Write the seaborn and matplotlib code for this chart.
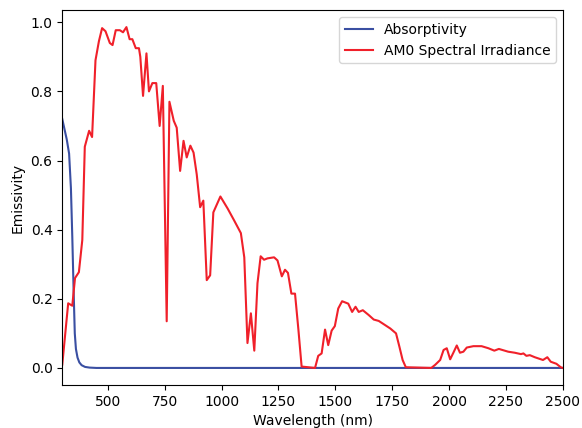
import matplotlib
matplotlib.use('Agg')
import matplotlib.pyplot as plt
import seaborn as sns
import pandas as pd

# absorptivity of the coating
abs_wl = [300, 310, 320, 330, 338, 344, 350, 355, 360, 367, 375, 385, 400, 420,
          450, 500, 1000, 1500, 2000, 2500]
abs_val = [0.72, 0.69, 0.66, 0.62, 0.52, 0.38, 0.22, 0.10, 0.055, 0.03, 0.016,
           0.008, 0.003, 0.001, 0.0, 0.0, 0.0, 0.0, 0.0, 0.0]

# AM0 spectrum, normalised
am0_wl = [300, 326, 344, 356, 373, 388, 399, 418, 431, 446, 461, 475, 490, 509,
          521, 535, 553, 567, 582, 596, 608, 623, 637, 643, 655, 670, 681, 696,
          713, 728, 742, 759, 771, 790, 803, 818, 833, 847, 863, 877, 891, 906,
          920, 935, 950, 964, 995, 1027, 1056, 1085, 1100, 1114, 1129, 1144,
          1158, 1172, 1187, 1202, 1231, 1246, 1265, 1279, 1292, 1307, 1323,
          1338, 1352, 1411, 1425, 1440, 1455, 1469, 1484, 1498, 1513, 1530,
          1557, 1574, 1589, 1603, 1621, 1647, 1669, 1691, 1705, 1742, 1767,
          1782, 1796, 1810, 1922, 1939, 1961, 1976, 1990, 2005, 2019, 2034,
          2048, 2063, 2078, 2107, 2143, 2173, 2199, 2219, 2260, 2289, 2316,
          2327, 2340, 2355, 2377, 2413, 2432, 2447, 2472, 2491, 2500]
am0_val = [0.01, 0.187, 0.18, 0.26, 0.277, 0.37, 0.64, 0.686, 0.668, 0.89,
           0.945, 0.983, 0.974, 0.94, 0.934, 0.977, 0.977, 0.971, 0.986, 0.951,
           0.951, 0.925, 0.925, 0.90, 0.787, 0.91, 0.80, 0.824, 0.824, 0.70,
           0.816, 0.135, 0.77, 0.715, 0.695, 0.57, 0.657, 0.609, 0.643, 0.623,
           0.56, 0.465, 0.484, 0.254, 0.268, 0.45, 0.496, 0.461, 0.426, 0.39,
           0.32, 0.072, 0.158, 0.05, 0.245, 0.323, 0.313, 0.317, 0.32, 0.311,
           0.265, 0.284, 0.275, 0.215, 0.215, 0.11, 0.004, 0.0, 0.035, 0.042,
           0.111, 0.066, 0.108, 0.121, 0.172, 0.193, 0.186, 0.162, 0.177,
           0.162, 0.167, 0.153, 0.14, 0.136, 0.13, 0.114, 0.10, 0.061, 0.023,
           0.002, 0.0, 0.009, 0.023, 0.052, 0.057, 0.025, 0.044, 0.065, 0.044,
           0.047, 0.059, 0.063, 0.063, 0.057, 0.05, 0.055, 0.047, 0.044, 0.04,
           0.042, 0.035, 0.037, 0.031, 0.023, 0.031, 0.018, 0.012, 0.002, 0.0]

absorb = pd.DataFrame({'wl': abs_wl, 'val': abs_val})
am0 = pd.DataFrame({'wl': am0_wl, 'val': am0_val})

fig = plt.figure(figsize=(5.82, 4.28), dpi=100)
ax = fig.add_axes([0.107, 0.1005, 0.860, 0.876])

sns.lineplot(data=absorb, x='wl', y='val', color='#3a4fa2', lw=1.5,
             label='Absorptivity', ax=ax)
sns.lineplot(data=am0, x='wl', y='val', color='#f0202a', lw=1.5,
             label='AM0 Spectral Irradiance', ax=ax)

ax.set_xlim(300, 2500)
ax.set_xlabel('Wavelength (nm)')
ax.set_ylabel('Emissivity')
ax.legend(loc='upper right')

plt.savefig('out.png', dpi=100)
